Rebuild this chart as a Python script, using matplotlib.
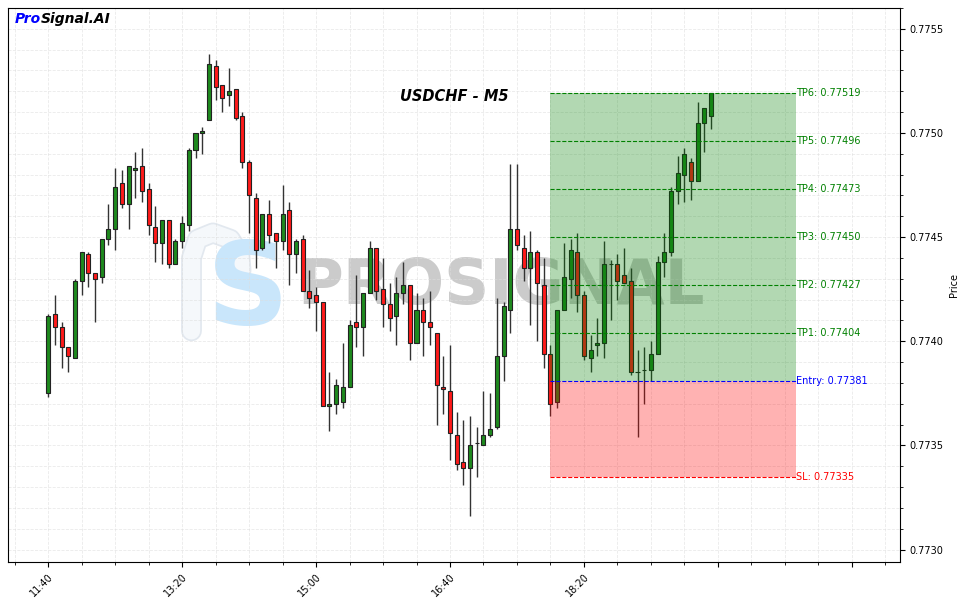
import matplotlib
matplotlib.use("Agg")
import matplotlib.pyplot as plt
from matplotlib.ticker import MultipleLocator, FuncFormatter
import numpy as np
import pandas as pd

# ---- data (USDCHF M5) ----
times = pd.date_range("2024-01-01 11:40", periods=100, freq="5min")

opens = [0.77375, 0.77413, 0.77407, 0.77397, 0.77392, 0.77429, 0.77442, 0.77433, 0.77431, 0.77449,
         0.77454, 0.77476, 0.77466, 0.77482, 0.77484, 0.77473, 0.77455, 0.77447, 0.77458, 0.77437,
         0.77448, 0.77456, 0.77492, 0.77500, 0.77506, 0.77532, 0.77523, 0.77518, 0.77521, 0.77508,
         0.77486, 0.77469, 0.77445, 0.77461, 0.77452, 0.77448, 0.77463, 0.77442, 0.77449, 0.77424,
         0.77422, 0.77419, 0.77369, 0.77370, 0.77371, 0.77378, 0.77409, 0.77407, 0.77423, 0.77445,
         0.77425, 0.77418, 0.77412, 0.77423, 0.77427, 0.77399, 0.77415, 0.77409, 0.77404, 0.77378,
         0.77376, 0.77355, 0.77342, 0.77339, 0.77351, 0.77350, 0.77355, 0.77359, 0.77393, 0.77415,
         0.77454, 0.77445, 0.77435, 0.77443, 0.77427, 0.77394, 0.77371, 0.77415, 0.77430, 0.77443,
         0.77422, 0.77392, 0.77398, 0.77399, 0.77437, 0.77437, 0.77432, 0.77429, 0.77385, 0.77386,
         0.77386, 0.77394, 0.77438, 0.77443, 0.77472, 0.77480, 0.77486, 0.77477, 0.77505, 0.77508]
highs = [0.77413, 0.77422, 0.77409, 0.77397, 0.77430, 0.77443, 0.77443, 0.77433, 0.77449, 0.77466,
         0.77483, 0.77482, 0.77484, 0.77491, 0.77493, 0.77476, 0.77465, 0.77458, 0.77458, 0.77449,
         0.77460, 0.77493, 0.77500, 0.77503, 0.77538, 0.77535, 0.77523, 0.77531, 0.77521, 0.77510,
         0.77487, 0.77471, 0.77461, 0.77468, 0.77452, 0.77475, 0.77467, 0.77449, 0.77451, 0.77434,
         0.77426, 0.77419, 0.77385, 0.77382, 0.77399, 0.77410, 0.77432, 0.77423, 0.77448, 0.77445,
         0.77440, 0.77428, 0.77431, 0.77438, 0.77427, 0.77423, 0.77421, 0.77424, 0.77404, 0.77393,
         0.77398, 0.77366, 0.77362, 0.77364, 0.77359, 0.77376, 0.77375, 0.77421, 0.77419, 0.77485,
         0.77485, 0.77451, 0.77453, 0.77444, 0.77440, 0.77398, 0.77415, 0.77447, 0.77449, 0.77452,
         0.77424, 0.77403, 0.77411, 0.77448, 0.77439, 0.77442, 0.77445, 0.77435, 0.77396, 0.77397,
         0.77400, 0.77441, 0.77452, 0.77474, 0.77489, 0.77493, 0.77488, 0.77515, 0.77512, 0.77519]
lows = [0.77373, 0.77398, 0.77387, 0.77385, 0.77392, 0.77422, 0.77426, 0.77409, 0.77428, 0.77446,
        0.77444, 0.77464, 0.77454, 0.77469, 0.77467, 0.77451, 0.77438, 0.77437, 0.77435, 0.77437,
        0.77445, 0.77453, 0.77488, 0.77490, 0.77506, 0.77516, 0.77510, 0.77513, 0.77506, 0.77483,
        0.77452, 0.77435, 0.77444, 0.77447, 0.77435, 0.77444, 0.77427, 0.77433, 0.77424, 0.77416,
        0.77405, 0.77369, 0.77357, 0.77365, 0.77368, 0.77378, 0.77397, 0.77393, 0.77423, 0.77420,
        0.77407, 0.77405, 0.77398, 0.77418, 0.77391, 0.77399, 0.77393, 0.77398, 0.77360, 0.77365,
        0.77343, 0.77338, 0.77331, 0.77316, 0.77335, 0.77350, 0.77354, 0.77358, 0.77381, 0.77404,
        0.77444, 0.77429, 0.77408, 0.77400, 0.77387, 0.77364, 0.77368, 0.77415, 0.77421, 0.77414,
        0.77391, 0.77385, 0.77393, 0.77392, 0.77410, 0.77420, 0.77428, 0.77384, 0.77354, 0.77370,
        0.77381, 0.77394, 0.77431, 0.77441, 0.77466, 0.77467, 0.77468, 0.77477, 0.77491, 0.77502]
closes = [0.77412, 0.77407, 0.77397, 0.77393, 0.77429, 0.77443, 0.77433, 0.77430, 0.77449, 0.77454,
          0.77474, 0.77466, 0.77484, 0.77483, 0.77472, 0.77456, 0.77447, 0.77458, 0.77437, 0.77448,
          0.77457, 0.77492, 0.77500, 0.77501, 0.77533, 0.77522, 0.77517, 0.77520, 0.77507, 0.77486,
          0.77470, 0.77444, 0.77461, 0.77451, 0.77448, 0.77461, 0.77442, 0.77448, 0.77424, 0.77421,
          0.77419, 0.77369, 0.77370, 0.77379, 0.77378, 0.77408, 0.77407, 0.77423, 0.77445, 0.77424,
          0.77418, 0.77411, 0.77423, 0.77427, 0.77399, 0.77415, 0.77409, 0.77407, 0.77379, 0.77377,
          0.77356, 0.77341, 0.77339, 0.77350, 0.77351, 0.77355, 0.77358, 0.77393, 0.77417, 0.77454,
          0.77446, 0.77435, 0.77443, 0.77428, 0.77394, 0.77370, 0.77415, 0.77431, 0.77444, 0.77422,
          0.77393, 0.77396, 0.77399, 0.77437, 0.77437, 0.77429, 0.77428, 0.77385, 0.77385, 0.77386,
          0.77394, 0.77438, 0.77443, 0.77472, 0.77481, 0.77490, 0.77477, 0.77505, 0.77512, 0.77519]

entry_price = 0.77381
sl_price = 0.77335
tp_names = ["TP1", "TP2", "TP3", "TP4", "TP5", "TP6"]
tp_prices = [0.77404, 0.77427, 0.77450, 0.77473, 0.77496, 0.77519]
signal_start = 75      # candle where the signal zone starts
zone_end = 111.7

symbol = "USDCHF - M5"

# ---- figure ----
fig = plt.figure(figsize=(9.63, 6.03), dpi=100)
ax = fig.add_axes([0.0083, 0.068, 0.9263, 0.9187])

o = np.array(opens)
h = np.array(highs)
l = np.array(lows)
c = np.array(closes)
x = np.arange(len(o))
up = c >= o
body_col = np.where(up, "#1e8a1e", "#ff1a1a")

# watermark (logo + name)
ax.text(0.553, 0.497, "PROSIGNAL", transform=ax.transAxes, ha="center", va="center",
        fontsize=45, fontweight="bold", color="#cbcbcb", zorder=0.5)
arch_x = [21.4, 21.4, 22.3, 24.6, 27.2, 28.6, 28.8]
arch_y = [0.77405, 0.77440, 0.77449, 0.77452, 0.77449, 0.77442, 0.77434]
ax.plot(arch_x, arch_y, color="#e2e8ef", lw=15, solid_capstyle="round",
        solid_joinstyle="round", zorder=0.4)
ax.plot(arch_x, arch_y, color="#f5f8fb", lw=12.5, solid_capstyle="round",
        solid_joinstyle="round", zorder=0.41)
ax.text(0.269, 0.487, "S", transform=ax.transAxes, ha="center", va="center",
        fontsize=82, fontweight="bold", color="#c9e6fb", zorder=0.45)

# candles
ax.vlines(x, l, h, color="#333333", lw=1.0, zorder=2)
ax.bar(x, np.abs(c - o), width=0.6, bottom=np.minimum(o, c), color=body_col,
       edgecolor="#222222", linewidth=0.8, zorder=3)

# signal zone
xs = [signal_start, zone_end]
ax.fill_between(xs, entry_price, tp_prices[-1], color="green", alpha=0.3, lw=0, zorder=4)
ax.fill_between(xs, sl_price, entry_price, color="red", alpha=0.3, lw=0, zorder=4)
for name, p in zip(tp_names, tp_prices):
    ax.hlines(p, signal_start, zone_end, colors="green", linestyles="--", lw=0.8, zorder=5)
    ax.text(zone_end, p, f"{name}: {p:.5f}", color="green", fontsize=7,
            ha="left", va="center", zorder=6)
ax.hlines(entry_price, signal_start, zone_end, colors="blue", linestyles="--", lw=0.8, zorder=5)
ax.text(zone_end, entry_price, f"Entry: {entry_price:.5f}", color="blue", fontsize=7,
        ha="left", va="center", zorder=6)
ax.hlines(sl_price, signal_start, zone_end, colors="red", linestyles="--", lw=0.8, zorder=5)
ax.text(zone_end, sl_price, f"SL: {sl_price:.5f}", color="red", fontsize=7,
        ha="left", va="center", zorder=6)

ax.text(0.5, 0.84, symbol, transform=ax.transAxes, ha="center", va="center",
        fontsize=10.5, fontweight="bold", fontstyle="italic", zorder=7)

# axes
ax.set_xlim(-6, 127.2)
ax.set_ylim(0.77294, 0.77560)
ax.xaxis.set_major_locator(MultipleLocator(20))
ax.xaxis.set_minor_locator(MultipleLocator(5))


def fmt_time(v, pos):
    i = int(round(v))
    if 0 <= i < len(times) and abs(v - i) < 1e-6:
        return times[i].strftime("%H:%M")
    return ""


ax.xaxis.set_major_formatter(FuncFormatter(fmt_time))
ax.yaxis.set_major_locator(MultipleLocator(0.0005))
ax.yaxis.set_minor_locator(MultipleLocator(0.0001))
ax.yaxis.set_major_formatter(FuncFormatter(lambda v, p: f"{v:.4f}"))
ax.yaxis.tick_right()
ax.yaxis.set_label_position("right")
ax.set_ylabel("Price", fontsize=7)
ax.tick_params(axis="both", which="major", labelsize=7, length=3.5)
ax.tick_params(axis="both", which="minor", length=2)
for lab in ax.get_xticklabels():
    lab.set_rotation(45)
    lab.set_ha("right")
    lab.set_rotation_mode("anchor")
ax.grid(True, which="both", linestyle="--", color="#dddddd", lw=0.6, alpha=0.6, zorder=0)
ax.set_axisbelow(True)

# brand
t1 = fig.text(0.0156, 0.9685, "Pro", color="blue", fontsize=10, fontweight="bold",
              fontstyle="italic", va="center", ha="left")
ax.annotate("Signal.AI", xy=(1, 0.5), xycoords=t1, va="center", ha="left",
            fontsize=10, fontweight="bold", fontstyle="italic", color="black",
            annotation_clip=False)

fig.savefig("out.png", dpi=100)
